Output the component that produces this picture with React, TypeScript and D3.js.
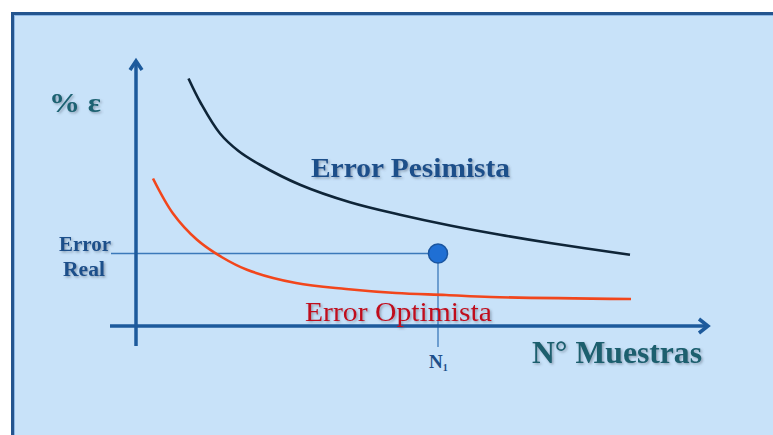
import React from "react";
import * as d3 from "d3";

// Error curves: x = number of samples (relative units), y = % error
const pesimistaX = [10.5, 13, 16.8, 20.5, 24.8, 32.8, 42.8, 52.8, 62.8, 72.8, 82.8, 98.8];
const pesimistaY = [99, 89, 77, 70, 64.5, 56.5, 49.5, 44.5, 40.2, 36.5, 33.2, 28.5];

const optimistaX = [3.4, 7.4, 12.2, 17.2, 22.2, 32, 42, 52, 62, 71, 99];
const optimistaY = [59, 45, 34.5, 27.5, 22.5, 17.2, 14.8, 13.2, 12.4, 11.6, 10.8];

// Sample size N1 and the real error at that size
const realPointX = [60.4];
const realPointY = [29];

const labels = {
  yAxis: "% ε",
  xAxis: "N° Muestras",
  pesimista: "Error Pesimista",
  optimista: "Error Optimista",
  real: ["Error", "Real"],
  n1: "N",
};

const W = 773;
const H = 435;

export default function App() {
  const x = d3.scaleLinear().domain([0, 100]).range([136, 636]);
  const y = d3.scaleLinear().domain([0, 100]).range([326, 76]);

  const line = d3
    .line<[number, number]>()
    .x((d) => x(d[0]))
    .y((d) => y(d[1]))
    .curve(d3.curveCatmullRom.alpha(0.5));

  const pes = pesimistaX.map((v, i) => [v, pesimistaY[i]] as [number, number]);
  const opt = optimistaX.map((v, i) => [v, optimistaY[i]] as [number, number]);

  const x0 = x(0);
  const y0 = y(0);
  const xAxisStart = x(-5.2);
  const xAxisEnd = x(114.4);
  const yAxisBottom = y(-8);
  const yAxisTop = y(106);

  const px = x(realPointX[0]);
  const py = y(realPointY[0]);

  const axisColor = "#1d5a9c";
  const serif = "'Liberation Serif', 'Times New Roman', serif";

  return (
    <svg
      width={W}
      height={H}
      style={{ position: "absolute", left: 0, top: 0, background: "#ffffff" }}
    >
      <defs>
        <filter id="shadow" x="-10%" y="-30%" width="130%" height="170%">
          <feDropShadow dx="1.5" dy="1.5" stdDeviation="0.9" floodColor="#445566" floodOpacity="0.45" />
        </filter>
      </defs>

      {/* panel */}
      <rect x={12.5} y={13.5} width={820} height={500} fill="#c8e2f9" stroke="#24558f" strokeWidth={3} />
      <rect x={14.5} y={15.5} width={820} height={500} fill="none" stroke="#8db8e6" strokeWidth={1} />

      {/* guide lines to the real error point */}
      <line x1={x(-5)} y1={py} x2={px} y2={py} stroke="#3b79ba" strokeWidth={1.3} />
      <line x1={px} y1={py} x2={px} y2={y(-8.4)} stroke="#3b79ba" strokeWidth={1.3} />

      {/* axes */}
      <line x1={xAxisStart} y1={y0} x2={xAxisEnd - 1} y2={y0} stroke={axisColor} strokeWidth={3.5} />
      <polyline
        points={`${xAxisEnd - 9},${y0 - 7} ${xAxisEnd},${y0} ${xAxisEnd - 9},${y0 + 7}`}
        fill="none"
        stroke={axisColor}
        strokeWidth={3.5}
        strokeLinejoin="miter"
      />
      <line x1={x0} y1={yAxisBottom} x2={x0} y2={yAxisTop + 1} stroke={axisColor} strokeWidth={3.5} />
      <polyline
        points={`${x0 - 6},${yAxisTop + 9} ${x0},${yAxisTop} ${x0 + 6},${yAxisTop + 9}`}
        fill="none"
        stroke={axisColor}
        strokeWidth={3.5}
        strokeLinejoin="miter"
      />

      {/* curves */}
      <path d={line(pes) ?? ""} fill="none" stroke="#0f2538" strokeWidth={2.6} />
      <path d={line(opt) ?? ""} fill="none" stroke="#f2461c" strokeWidth={2.6} />

      {/* real error point */}
      <circle cx={px} cy={py} r={9.5} fill="#1f6fd4" stroke="#1a55a0" strokeWidth={1.5} />

      {/* labels */}
      <text
        x={49}
        y={112}
        fontFamily={serif}
        fontWeight="bold"
        fontSize={27}
        fill="#1b6272"
        filter="url(#shadow)"
        textLength={52}
        lengthAdjust="spacingAndGlyphs"
      >
        {labels.yAxis}
      </text>
      <text
        x={311}
        y={177}
        fontFamily={serif}
        fontWeight="bold"
        fontSize={27}
        fill="#1e4f8a"
        filter="url(#shadow)"
        textLength={199}
        lengthAdjust="spacingAndGlyphs"
      >
        {labels.pesimista}
      </text>
      <text
        x={305}
        y={321}
        fontFamily={serif}
        fontSize={27}
        fill="#c00d1e"
        filter="url(#shadow)"
        textLength={187}
        lengthAdjust="spacingAndGlyphs"
      >
        {labels.optimista}
      </text>
      <text
        x={532}
        y={363}
        fontFamily={serif}
        fontWeight="bold"
        fontSize={31}
        fill="#1a5e6e"
        filter="url(#shadow)"
        textLength={170}
        lengthAdjust="spacingAndGlyphs"
      >
        {labels.xAxis}
      </text>
      <text
        x={111}
        y={251}
        textAnchor="end"
        fontFamily={serif}
        fontWeight="bold"
        fontSize={20}
        fill="#1e4f8a"
        filter="url(#shadow)"
        textLength={52}
        lengthAdjust="spacingAndGlyphs"
      >
        {labels.real[0]}
      </text>
      <text
        x={84}
        y={276}
        textAnchor="middle"
        fontFamily={serif}
        fontWeight="bold"
        fontSize={20}
        fill="#1e4f8a"
        filter="url(#shadow)"
        textLength={42}
        lengthAdjust="spacingAndGlyphs"
      >
        {labels.real[1]}
      </text>
      <text
        x={px - 9}
        y={368}
        fontFamily={serif}
        fontWeight="bold"
        fontSize={19}
        fill="#1e4f8a"
      >
        {labels.n1}
        <tspan fontSize={10} dy={3}>1</tspan>
      </text>
    </svg>
  );
}
